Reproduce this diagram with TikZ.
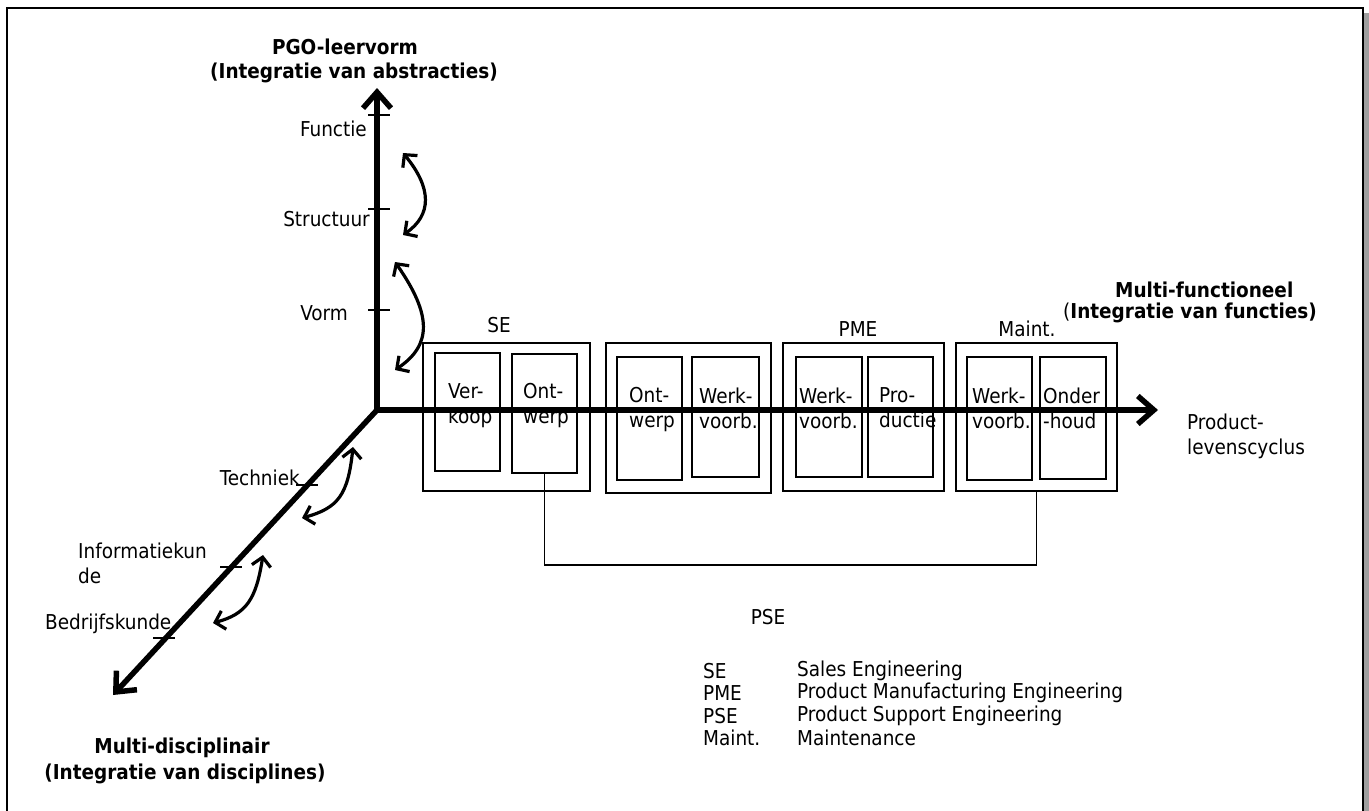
\documentclass[tikz,border=0pt]{standalone}
\usepackage{fontspec}
\setmainfont{DejaVu Sans Condensed}
\usetikzlibrary{arrows.meta}
\begin{document}
\begin{tikzpicture}[x=1pt,y=-1pt,
  txt/.style={font=\fontsize{20.5}{25}\selectfont, inner sep=0pt, align=left},
  bld/.style={font=\fontsize{20.5}{25}\selectfont\bfseries, inner sep=0pt},
  axis/.style={line width=5.5pt, -{Straight Barb[length=16pt,width=28pt]}},
  curv/.style={line width=3.2pt, {Straight Barb[length=9pt,width=19pt]}-{Straight Barb[length=9pt,width=19pt]}},
  grp/.style={draw, line width=1.8pt, inner sep=0pt},
  cell/.style={draw, line width=1.8pt, inner sep=0pt},
  tck/.style={line width=1.5pt},
  brkt/.style={line width=1.6pt}]
\useasboundingbox (0,0) rectangle (1369,811);
% frame with shadow
\fill[gray!75] (1364,13) rectangle (1369,830);
\draw[line width=2.2pt] (7,830) -- (7,8) -- (1363,8) -- (1363,830);

% groups (outer boxes)
\node[grp, minimum width=167pt, minimum height=148pt] (g1) at (506.5,417) {};
\node[grp, minimum width=165pt, minimum height=150pt] (g2) at (688.5,418) {};
\node[grp, minimum width=161pt, minimum height=148pt] (g3) at (863.5,417) {};
\node[grp, minimum width=161pt, minimum height=148pt] (g4) at (1036.5,417) {};

% cells
\node[cell, minimum width=65pt, minimum height=118pt] (b11) at (467.5,412) {};
\node[cell, minimum width=65pt, minimum height=119pt] (b12) at (544.5,413.5) {};
\node[cell, minimum width=65pt, minimum height=123pt] (b21) at (649.5,418.5) {};
\node[cell, minimum width=67pt, minimum height=120pt] (b22) at (725.5,417) {};
\node[cell, minimum width=66pt, minimum height=120pt] (b31) at (829,417) {};
\node[cell, minimum width=65pt, minimum height=120pt] (b32) at (900.5,417) {};
\node[cell, minimum width=65pt, minimum height=123pt] (b41) at (999.5,418.5) {};
\node[cell, minimum width=66pt, minimum height=122pt] (b42) at (1073,418) {};

% cell texts
\node[txt, anchor=west] (t11) at (448,406) {Ver-\\koop};
\node[txt, anchor=west] (t12) at (523,406) {Ont-\\werp};
\node[txt, anchor=west] (t21) at (629,410) {Ont-\\werp};
\node[txt, anchor=west] (t22) at (699,408) {Werk-\\voorb.};
\node[txt, anchor=west] (t31) at (799,408) {Werk-\\voorb.};
\node[txt, anchor=west] (t32) at (879,408) {Pro-\\ductie};
\node[txt, anchor=west] (t41) at (972,408) {Werk-\\voorb.};
\node[txt, anchor=west] (t42) at (1043,408) {Onder\\-houd};

% group labels
\node[txt] (lse) at (499,325) {SE};
\node[txt] (lpme) at (858,329) {PME};
\node[txt] (lmt) at (1027,329) {Maint.};

% axes
\coordinate (o) at (377,410);
\coordinate (ytip) at (377,88);
\coordinate (xtip) at (1158,410);
\coordinate (ztip) at (113,695);
\draw[axis] (o) -- (ytip);
\draw[axis] (o) -- (xtip);
\draw[axis] (o) -- (ztip);

% vertical ticks and labels
\coordinate (tf) at (379,115);
\coordinate (ts) at (379,209);
\coordinate (tv) at (379,310);
\draw[tck] ([xshift=-11pt]tf) -- ([xshift=11pt]tf);
\draw[tck] ([xshift=-11pt]ts) -- ([xshift=11pt]ts);
\draw[tck] ([xshift=-11pt]tv) -- ([xshift=11pt]tv);
\node[txt, anchor=east] (lf) at (367,128.5) {Functie};
\node[txt, anchor=east] (ls) at (370,219) {Structuur};
\node[txt, anchor=east] (lv) at (348,313) {Vorm};

% diagonal ticks and labels
\coordinate (dt) at (307,485);
\coordinate (di) at (231,567);
\coordinate (db) at (164,638);
\draw[tck] ([xshift=-11pt]dt) -- ([xshift=11pt]dt);
\draw[tck] ([xshift=-11pt]di) -- ([xshift=11pt]di);
\draw[tck] ([xshift=-11pt]db) -- ([xshift=11pt]db);
\node[txt, anchor=east] (ldt) at (300,478) {Techniek};
\node[txt, anchor=west] (ldi) at (78,563) {Informatiekun\\de};
\node[txt, anchor=west] (ldb) at (45,624) {Bedrijfskunde};

% curved double arrows
\coordinate (v1a) at (403,153); \coordinate (v1b) at (403,235);
\coordinate (v2a) at (395,262); \coordinate (v2b) at (395,370);
\coordinate (d1a) at (353,447); \coordinate (d1b) at (302,518);
\coordinate (d2a) at (263,555); \coordinate (d2b) at (213,623);
\draw[curv] (v1a) .. controls (432,188) and (432,215) .. (v1b);
\draw[curv] (v2a) .. controls (432,315) and (432,345) .. (v2b);
\draw[curv] (d1a) .. controls (348,495) and (338,508) .. (d1b);
\draw[curv] (d2a) .. controls (256,600) and (246,614) .. (d2b);

% axis titles
\node[bld] (ty1) at (345,47) {PGO-leervorm};
\node[bld] (ty2) at (354,73) {(Integratie van abstracties)};
\node[bld, anchor=west] (tx1) at (1115,290) {Multi-functioneel};
\node[bld, anchor=west] (tx2) at (1063,313) {\mdseries(\bfseries Integratie van functies)};
\node[txt, anchor=west] (tx3) at (1187,436) {Product-\\levenscyclus};
\node[bld] (tz1) at (182,748) {Multi-disciplinair};
\node[bld] (tz2) at (185,774) {(Integratie van disciplines)};

% PSE bracket
\coordinate (brk) at (0,565);
\draw[brkt] (b12.south) -- (b12.south |- brk) -- (g4.south |- brk) -- (g4.south);
\node[txt] (lpse) at (768,617) {PSE};

% legend
\node[txt, anchor=west] (k1) at (703,671) {SE};
\node[txt, anchor=west] (k2) at (703,693) {PME};
\node[txt, anchor=west] (k3) at (703,716) {PSE};
\node[txt, anchor=west] (k4) at (703,738) {Maint.};
\node[txt, anchor=west] (v1) at (797,671) {Sales Engineering};
\node[txt, anchor=west] (v2) at (797,693) {Product Manufacturing Engineering};
\node[txt, anchor=west] (v3) at (797,716) {Product Support Engineering};
\node[txt, anchor=west] (v4) at (797,738) {Maintenance};
\end{tikzpicture}
\end{document}
